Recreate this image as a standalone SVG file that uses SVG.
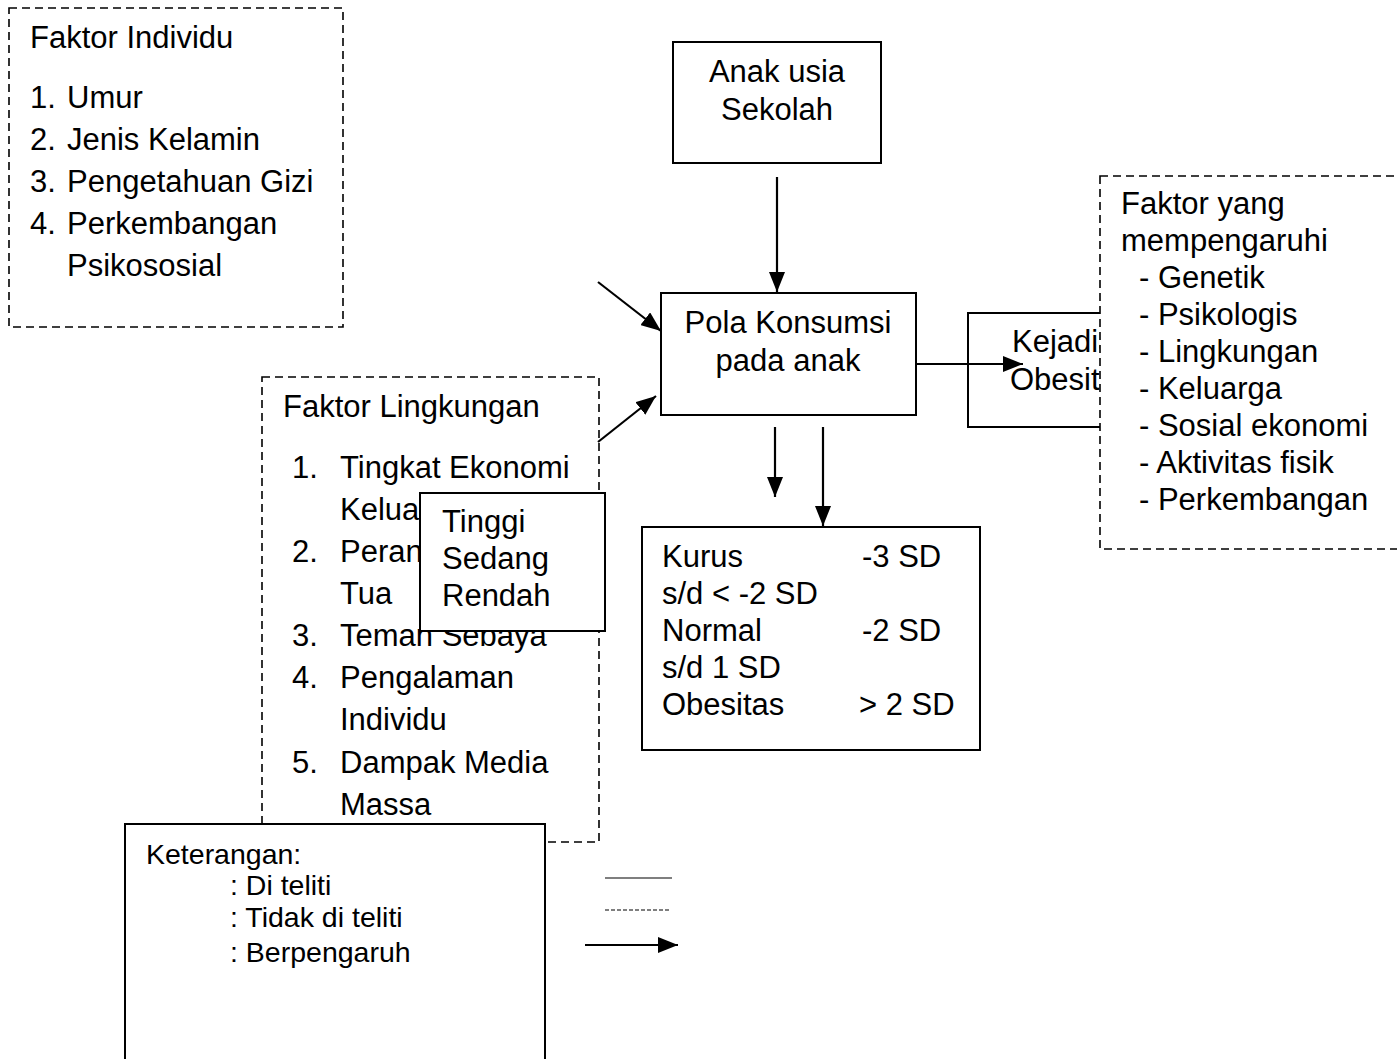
<svg xmlns="http://www.w3.org/2000/svg" width="1397" height="1059" viewBox="0 0 1397 1059">
<style>
text{font-family:"Liberation Sans",Arial,sans-serif;font-size:31px;fill:#000}
.leg{font-size:28.5px}
.solid{fill:#fff;stroke:#000;stroke-width:2}
.dash{fill:#fff;stroke:#000;stroke-width:1.6;stroke-dasharray:8 5}
.conn{stroke:#000;stroke-width:2.2;fill:none}
.c{text-anchor:middle}
</style>
<defs>
<marker id="ah" viewBox="0 0 20 16" refX="20" refY="8" markerWidth="20" markerHeight="16" orient="auto" markerUnits="userSpaceOnUse"><path d="M0,0 L20,8 L0,16 z" fill="#000"/></marker>
</defs>
<rect width="1397" height="1059" fill="#fff"/>

<g id="faktor-individu">
<rect class="dash" x="9" y="8" width="334" height="319"/>
<text x="30" y="48">Faktor Individu</text>
<text x="30" y="108">1.</text><text x="67" y="108">Umur</text>
<text x="30" y="150">2.</text><text x="67" y="150">Jenis Kelamin</text>
<text x="30" y="192">3.</text><text x="67" y="192">Pengetahuan Gizi</text>
<text x="30" y="234">4.</text><text x="67" y="234">Perkembangan</text>
<text x="67" y="276">Psikososial</text>
</g>

<g id="anak-usia-sekolah">
<rect class="solid" x="673" y="42" width="208" height="121"/>
<text class="c" x="777" y="82">Anak usia</text>
<text class="c" x="777" y="120">Sekolah</text>
</g>

<g id="pola-konsumsi">
<rect class="solid" x="661" y="293" width="255" height="122"/>
<text class="c" x="788" y="333">Pola Konsumsi</text>
<text class="c" x="788" y="371">pada anak</text>
</g>

<g id="faktor-lingkungan">
<rect class="dash" x="262" y="377" width="337" height="465"/>
<text x="283" y="417">Faktor Lingkungan</text>
<text x="292" y="478">1.</text><text x="340" y="478">Tingkat Ekonomi</text>
<text x="340" y="520">Kelua</text>
<text x="292" y="562">2.</text><text x="340" y="562">Peran</text>
<text x="340" y="604">Tua</text>
<text x="292" y="646">3.</text><text x="340" y="646">Teman Sebaya</text>
<text x="292" y="688">4.</text><text x="340" y="688">Pengalaman</text>
<text x="340" y="730">Individu</text>
<text x="292" y="773">5.</text><text x="340" y="773">Dampak Media</text>
<text x="340" y="815">Massa</text>
</g>

<g id="tingkat-ekonomi">
<rect class="solid" x="420" y="493" width="185" height="138"/>
<text x="442" y="532">Tinggi</text>
<text x="442" y="569">Sedang</text>
<text x="442" y="606">Rendah</text>
</g>

<g id="kejadian-obesitas">
<rect class="solid" x="968" y="313" width="180" height="114"/>
<text x="1012" y="352">Kejadian</text>
<text x="1010" y="390">Obesitas</text>
</g>

<g id="faktor-yang-mempengaruhi">
<rect class="dash" x="1100" y="176" width="320" height="373"/>
<text x="1121" y="214">Faktor yang</text>
<text x="1121" y="251">mempengaruhi</text>
<text x="1139" y="288">- Genetik</text>
<text x="1139" y="325">- Psikologis</text>
<text x="1139" y="362">- Lingkungan</text>
<text x="1139" y="399">- Keluarga</text>
<text x="1139" y="436">- Sosial ekonomi</text>
<text x="1139" y="473">- Aktivitas fisik</text>
<text x="1139" y="510">- Perkembangan</text>
</g>

<g id="status-gizi">
<rect class="solid" x="642" y="527" width="338" height="223"/>
<text x="662" y="567">Kurus</text><text x="862" y="567">-3 SD</text>
<text x="662" y="604">s/d &lt; -2 SD</text>
<text x="662" y="641">Normal</text><text x="862" y="641">-2 SD</text>
<text x="662" y="678">s/d 1 SD</text>
<text x="662" y="715">Obesitas</text><text x="859" y="715">&gt; 2 SD</text>
</g>

<g id="connectors">
<line class="conn" x1="777" y1="177" x2="777" y2="292" marker-end="url(#ah)"/>
<line class="conn" x1="598" y1="282" x2="661" y2="331" marker-end="url(#ah)"/>
<line class="conn" x1="598" y1="442" x2="656" y2="396" marker-end="url(#ah)"/>
<line class="conn" x1="917" y1="364" x2="1023" y2="364" marker-end="url(#ah)"/>
<line class="conn" x1="775" y1="427" x2="775" y2="497" marker-end="url(#ah)"/>
<line class="conn" x1="823" y1="427" x2="823" y2="526" marker-end="url(#ah)"/>
</g>

<g id="keterangan">
<rect class="solid" x="125" y="824" width="420" height="250"/>
<text class="leg" x="146" y="864">Keterangan:</text>
<text class="leg" x="230" y="895">: Di teliti</text>
<text class="leg" x="230" y="927">: Tidak di teliti</text>
<text class="leg" x="230" y="962">: Berpengaruh</text>
<line x1="605" y1="878" x2="672" y2="878" stroke="#000" stroke-width="1.2"/>
<line x1="605" y1="910" x2="669" y2="910" stroke="#000" stroke-width="1.2" stroke-dasharray="4 2"/>
<line class="conn" x1="585" y1="945" x2="678" y2="945" marker-end="url(#ah)"/>
</g>
</svg>
